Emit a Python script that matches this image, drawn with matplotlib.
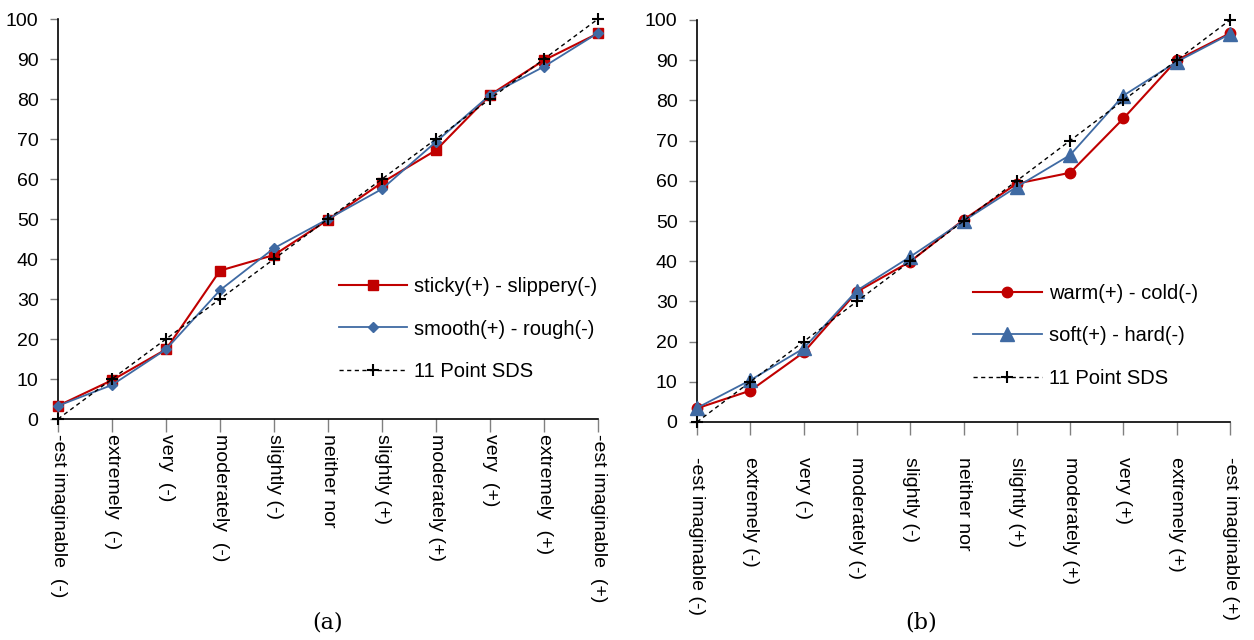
import matplotlib
matplotlib.use("Agg")
import matplotlib.pyplot as plt

plt.rcParams["font.family"] = ["Liberation Sans", "DejaVu Sans"]

# category labels (left panel has some wider gaps in the original)
_labelsA = ["-est imaginable  (-)", "extremely  (-)", "very  (-)", "moderately  (-)",
            "slightly (-)", "neither nor", "slightly (+)", "moderately (+)",
            "very  (+)", "extremely  (+)", "-est imaginable  (+)"]
_labelsB = ["-est imaginable (-)", "extremely (-)", "very (-)", "moderately (-)",
            "slightly (-)", "neither nor", "slightly (+)", "moderately (+)",
            "very (+)", "extremely (+)", "-est imaginable (+)"]

_sds = [0, 10, 20, 30, 40, 50, 60, 70, 80, 90, 100]
_sticky = [3.3, 9.7, 17.4, 37.1, 41.0, 49.8, 59.1, 67.2, 81.0, 89.7, 96.4]
_smooth = [3.3, 8.5, 17.4, 32.2, 42.7, 50.0, 57.5, 69.3, 81.0, 88.1, 96.5]
_warm = [3.4, 7.8, 17.3, 32.4, 39.9, 50.3, 59.3, 62.0, 75.5, 90.0, 96.7]
_soft = [3.5, 10.4, 18.3, 32.7, 41.1, 50.0, 58.5, 66.4, 81.2, 89.6, 96.5]

_red = "#C00000"
_blue = "#3F6AA3"
_fs = 14
_lfs = 14.5

_fig = plt.figure(figsize=(12.54, 6.4), dpi=100)
_axA = _fig.add_axes([58 / 1254, 221 / 640, 540 / 1254, 400 / 640])
_axB = _fig.add_axes([697 / 1254, 218 / 640, 533 / 1254, 402 / 640])


def _style(ax, labels, pad):
    _x = list(range(len(labels)))
    ax.set_xlim(0, len(labels) - 1)
    ax.set_ylim(0, 100)
    ax.set_yticks(range(0, 101, 10))
    ax.set_xticks(_x)
    ax.set_xticklabels(labels, rotation=270, va="top", ha="center", fontsize=_fs)
    ax.tick_params(axis="y", labelsize=_fs, length=6, color="#808080", width=1, pad=8)
    ax.tick_params(axis="x", length=9, color="#808080", width=1, pad=pad)
    for s in ["top", "right"]:
        ax.spines[s].set_visible(False)
    for s in ["left", "bottom"]:
        ax.spines[s].set_linewidth(1.2)
    return _x


_x = _style(_axA, _labelsA, 2)
_axA.plot(_x, _sticky, color=_red, marker="s", markersize=7.5, lw=1.5,
          label="sticky(+) - slippery(-)", clip_on=False, zorder=3)
_axA.plot(_x, _smooth, color=_blue, marker="D", markersize=5.5, lw=1.3,
          label="smooth(+) - rough(-)", clip_on=False, zorder=4)
_axA.plot(_x, _sds, color="black", ls="--", dashes=(3, 2.5), marker="+", markersize=9,
          mew=1.5, lw=1, label="11 Point SDS", clip_on=False, zorder=5)
_axA.legend(loc="center left", bbox_to_anchor=(0.52, 0.225), frameon=False,
            fontsize=_lfs, handlelength=3.4, handletextpad=0.35, labelspacing=1.15,
            borderpad=0, borderaxespad=0)

_x = _style(_axB, _labelsB, 16)
_axB.plot(_x, _warm, color=_red, marker="o", markersize=7.5, lw=1.5,
          label="warm(+) - cold(-)", clip_on=False, zorder=3)
_axB.plot(_x, _soft, color=_blue, marker="^", markersize=9.5, lw=1.3,
          label="soft(+) - hard(-)", clip_on=False, zorder=4)
_axB.plot(_x, _sds, color="black", ls="--", dashes=(3, 2.5), marker="+", markersize=9,
          mew=1.5, lw=1, label="11 Point SDS", clip_on=False, zorder=5)
_axB.legend(loc="center left", bbox_to_anchor=(0.518, 0.214), frameon=False,
            fontsize=_lfs, handlelength=3.4, handletextpad=0.35, labelspacing=1.15,
            borderpad=0, borderaxespad=0)

_fig.text(328 / 1254, 1 - 623 / 640, "(a)", ha="center", va="center",
          fontsize=16, family="DejaVu Serif")
_fig.text(921 / 1254, 1 - 623 / 640, "(b)", ha="center", va="center",
          fontsize=16, family="DejaVu Serif")

_fig.savefig("out.png", dpi=100)
